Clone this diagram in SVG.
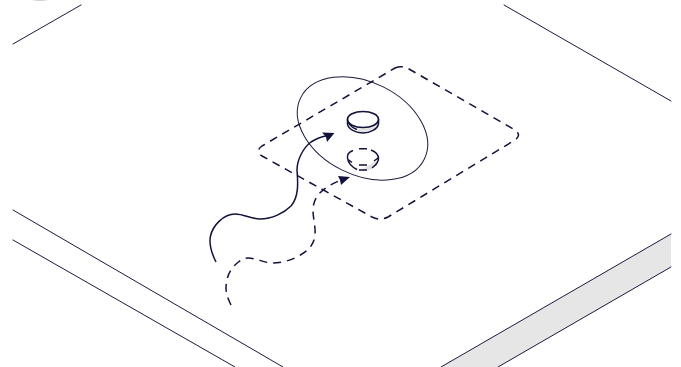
<svg xmlns="http://www.w3.org/2000/svg" width="681" height="367" viewBox="0 0 681 367">
<defs>
<style>
.l{fill:none;stroke:#1c1a3c;stroke-width:1;stroke-linecap:round}
.c{fill:none;stroke:#12123a;stroke-width:1.500;stroke-linecap:butt}
.d{stroke-dasharray:8 6}
.h{fill:#12123a}
</style>
</defs>
<rect width="681" height="367" fill="#fff"/>
<g id="table">
<path d="M441 367L671 234V267L498 367Z" fill="#e6e6e6"/>
<path class="l" d="M441 367L671 234M498 367L671 267M13 44L81 5M504 5L671 101M13 210L283 367M13 240L235 367"/>
<path d="M32 0Q40 2 48 0Z" fill="#ccc"/>
</g>
<g id="zone">
<path class="c d" d="M395 68Q402 65 409 69L515 130Q522 135 515 140L388 217Q380 221 372 217L262 156Q255 151 262 146Z"/>
</g>
<g id="ellipse">
<ellipse class="l" cx="362.500" cy="128.400" rx="69" ry="46.400" transform="rotate(26.500 362.500 128.400)"/>
</g>
<g id="disc-solid">
<path d="M358 128C365 129 372 127 377 122V125C373 130 367 133 358 132Z" fill="#e3e3e3"/>
<ellipse cx="363" cy="119.500" rx="15.500" ry="8" fill="#fff" stroke="#12123a" stroke-width="1.700"/>
<path class="c" d="M347.500 119.500V124C348 129 356 133 363 133C370 133 377.500 129 378.500 124V119.500"/>
<path class="c" d="M348 122C350 126 353 128 357 129.500"/>
</g>
<g id="disc-dashed">
<path d="M366 167L377 160V165L370 170L360 171Z" fill="#e3e3e3"/>
<path class="c" d="M353 150.500C349 152 347 155 347.500 158C348 162 350 166 357 169.500M371 150C376 152 378.500 155 378.500 158.500C378.500 162 376 165 372 168M359 148.700H367M359 165H367M359 170H367M348 159.500L352 162.500M374 161L378 158"/>
</g>
<g id="connectors">
<path class="c" d="M216 262C211 252 209 243 210.500 236C213 225 224 214 235 214C244 214 251 219 260 219C272 219 284 213 291 206C299 197 298 182 297 170C297 160 303 148 311 142C316 139 320 137 326 136"/>
<path class="h" d="M334.500 133L322 132.500L326 137L327 142Z"/>
<path class="c d" d="M231 305C228 299 226 294 226 288C226 279 229 271 235 265C239 261 243 258 248 258C256 258 264 263 273 263C282 263 291 260 297 257C304 253 311 249 314 240C317 230 313 220 313 210C313 204 315 199 318 195C323 189 331 184 341 180"/>
<path class="h" d="M350 177L338 176L340 180L341 185Z"/>
</g>
</svg>
